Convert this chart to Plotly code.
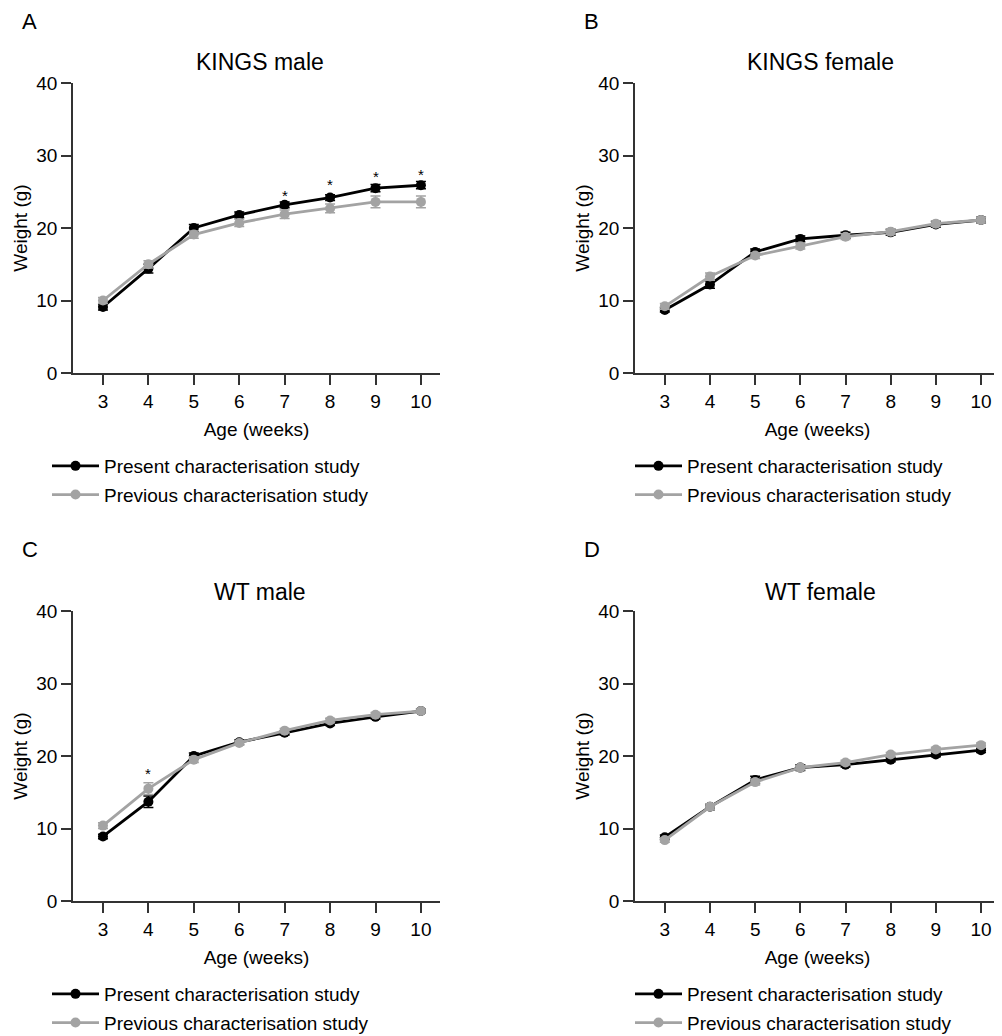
import plotly.graph_objects as go

# ---------------- data ----------------
weeks = [3, 4, 5, 6, 7, 8, 9, 10]
x_ticks = [3, 4, 5, 6, 7, 8, 9, 10]
y_ticks = [0, 10, 20, 30, 40]

panel_letters = ["A", "B", "C", "D"]
panel_titles = ["KINGS male", "KINGS female", "WT male", "WT female"]
series_names = ["Present characterisation study", "Previous characterisation study"]

# KINGS male
kings_male_present = [9.1, 14.4, 20.0, 21.8, 23.2, 24.2, 25.5, 25.9]
kings_male_present_err = [0.4, 0.6, 0.5, 0.4, 0.4, 0.4, 0.5, 0.5]
kings_male_previous = [10.0, 15.0, 19.1, 20.7, 21.9, 22.7, 23.6, 23.6]
kings_male_previous_err = [0.4, 0.5, 0.5, 0.5, 0.6, 0.6, 0.8, 0.8]

# KINGS female
kings_female_present = [8.7, 12.2, 16.7, 18.5, 19.0, 19.4, 20.5, 21.1]
kings_female_present_err = [0.3, 0.5, 0.4, 0.4, 0.4, 0.4, 0.4, 0.4]
kings_female_previous = [9.2, 13.3, 16.2, 17.5, 18.8, 19.5, 20.6, 21.1]
kings_female_previous_err = [0.4, 0.5, 0.4, 0.4, 0.4, 0.4, 0.4, 0.4]

# WT male
wt_male_present = [8.9, 13.7, 20.0, 21.9, 23.2, 24.5, 25.4, 26.2]
wt_male_present_err = [0.3, 0.8, 0.4, 0.3, 0.3, 0.3, 0.3, 0.3]
wt_male_previous = [10.4, 15.5, 19.5, 21.8, 23.5, 24.9, 25.7, 26.2]
wt_male_previous_err = [0.4, 0.8, 0.4, 0.3, 0.3, 0.3, 0.3, 0.3]

# WT female
wt_female_present = [8.8, 13.0, 16.7, 18.4, 18.8, 19.5, 20.2, 20.8]
wt_female_present_err = [0.3, 0.4, 0.5, 0.4, 0.3, 0.3, 0.3, 0.3]
wt_female_previous = [8.4, 13.0, 16.4, 18.4, 19.1, 20.2, 20.9, 21.5]
wt_female_previous_err = [0.3, 0.4, 0.4, 0.3, 0.3, 0.3, 0.3, 0.3]

# significance stars (x, y) per panel
stars_x = [[7, 8, 9, 10], [], [4], []]
stars_y = [[25.0, 26.5, 27.7, 28.0], [], [18.2], []]

present = [kings_male_present, kings_female_present, wt_male_present, wt_female_present]
present_err = [kings_male_present_err, kings_female_present_err, wt_male_present_err, wt_female_present_err]
previous = [kings_male_previous, kings_female_previous, wt_male_previous, wt_female_previous]
previous_err = [kings_male_previous_err, kings_female_previous_err, wt_male_previous_err, wt_female_previous_err]

# ---------------- style ----------------
W, H = 1002, 1036
OFF = 8  # page body margin
FONT = "Liberation Sans, Arial, sans-serif"
TXT = "#000000"
AX = "#333333"
BLACK = "#000000"
GRAY = "#a3a3a3"


def fx(px):
    return (px - OFF) / W


def fy(py):
    return 1 - (py - OFF) / H


x_domains = [[fx(73), fx(440)], [fx(635), fx(1000)]] * 2
y_top = [fy(373), fy(83)]
y_bot = [fy(901), fy(611)]
y_domains = [y_top, y_top, y_bot, y_bot]

fig = go.Figure()

for i in range(4):
    xa = "x" if i == 0 else f"x{i+1}"
    ya = "y" if i == 0 else f"y{i+1}"
    lg = "legend" if i == 0 else f"legend{i+1}"
    for vals, errs, color, name, rank in [
        (present[i], present_err[i], BLACK, series_names[0], 1),
        (previous[i], previous_err[i], GRAY, series_names[1], 2),
    ]:
        fig.add_trace(go.Scatter(
            x=weeks, y=vals, mode="lines+markers", name=name,
            xaxis=xa, yaxis=ya, legend=lg, legendgroup=f"{i}-{rank}", legendrank=rank,
            line=dict(color=color, width=2.8),
            marker=dict(color=color, size=10, symbol="circle"),
            error_y=dict(type="data", array=errs, visible=True, color=color,
                         thickness=1.5, width=5),
        ))
    for sx, sy in zip(stars_x[i], stars_y[i]):
        fig.add_annotation(x=sx, y=sy, xref=xa, yref=ya, text="*", showarrow=False,
                           font=dict(size=15, color=TXT, family=FONT), yanchor="middle", yshift=-4)

axis_common = dict(showline=True, linecolor=AX, linewidth=1.5, ticks="outside",
                   ticklen=10, tickwidth=1.5, tickcolor=AX, showgrid=False, zeroline=False,
                   tickfont=dict(size=19, color=TXT, family=FONT))

layout = dict(width=W, height=H, margin=dict(l=0, r=0, t=0, b=0, autoexpand=False),
              paper_bgcolor="white", plot_bgcolor="white",
              font=dict(family=FONT, color=TXT), showlegend=True)

for i in range(4):
    xk = "xaxis" if i == 0 else f"xaxis{i+1}"
    yk = "yaxis" if i == 0 else f"yaxis{i+1}"
    ya = "y" if i == 0 else f"y{i+1}"
    xa = "x" if i == 0 else f"x{i+1}"
    layout[xk] = dict(domain=x_domains[i], anchor=ya, range=[2.34, 10.42],
                      tickvals=x_ticks, ticktext=[str(t) for t in x_ticks],
                      title=dict(text="Age (weeks)", font=dict(size=19, color=TXT, family=FONT), standoff=12),
                      **axis_common)
    layout[yk] = dict(domain=y_domains[i], anchor=xa, range=[0, 40],
                      tickvals=y_ticks, ticktext=[str(t) for t in y_ticks],
                      title=dict(text="Weight (g)", font=dict(size=19, color=TXT, family=FONT), standoff=4),
                      **axis_common)

legend_px = [(47, 447), (630, 447), (47, 975), (630, 975)]
for i in range(4):
    lk = "legend" if i == 0 else f"legend{i+1}"
    layout[lk] = dict(x=fx(legend_px[i][0]), y=fy(legend_px[i][1]), xanchor="left", yanchor="top",
                      bgcolor="rgba(0,0,0,0)", font=dict(size=19, color=TXT, family=FONT),
                      tracegroupgap=1, itemwidth=47, traceorder="grouped")

fig.update_layout(**layout)

# panel letters and titles
letter_px = [(20, 22), (582, 22), (20, 549), (582, 549)]
title_py = [62, 62, 592, 592]
for i in range(4):
    fig.add_annotation(x=fx(letter_px[i][0]), y=fy(letter_px[i][1]), xref="paper", yref="paper",
                       text=panel_letters[i], showarrow=False, xanchor="left", yanchor="middle",
                       font=dict(size=22, color=TXT, family=FONT))
    xa = "x" if i == 0 else f"x{i+1}"
    fig.add_annotation(x=6.45, y=fy(title_py[i]), xref=xa, yref="paper",
                       text=panel_titles[i], showarrow=False, xanchor="center", yanchor="middle",
                       font=dict(size=23, color=TXT, family=FONT))

fig.write_html("out.html")
